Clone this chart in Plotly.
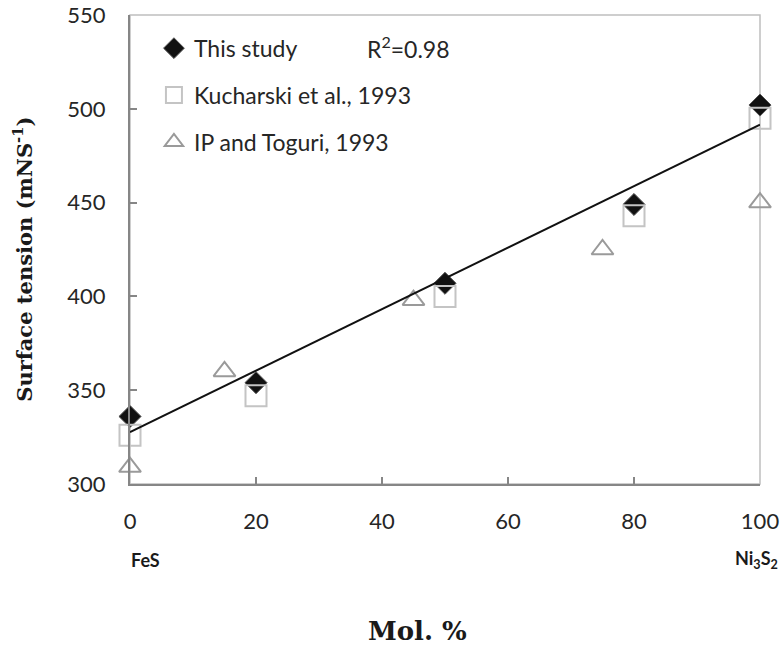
import numpy as np
import plotly.graph_objects as go

# Data
this_x = [0, 20, 50, 80, 100]
this_y = [336, 354, 407, 449, 502]
kuch_x = [0, 20, 50, 80, 100]
kuch_y = [326, 347, 400, 443, 495]
ip_x = [0, 15, 45, 75, 100]
ip_y = [309, 360, 398, 425, 450]
x_ticks = [0, 20, 40, 60, 80, 100]
y_ticks = [300, 350, 400, 450, 500, 550]

slope, intercept = np.polyfit(this_x, this_y, 1)
fit_x = [0, 100]
fit_y = [intercept + slope * v for v in fit_x]

fig = go.Figure()
fig.add_trace(go.Scatter(x=this_x, y=this_y, mode="markers", name="This study",
                         legendgroup="a", cliponaxis=False,
                         marker=dict(symbol="diamond", size=17, color="#111111",
                                     line=dict(color="#555555", width=1))))
fig.add_trace(go.Scatter(x=kuch_x, y=kuch_y, mode="markers", name="Kucharski et al., 1993",
                         legendgroup="b", cliponaxis=False,
                         marker=dict(symbol="square-open", size=21, color="#c4c4c4",
                                     line=dict(color="#c4c4c4", width=2))))
fig.add_trace(go.Scatter(x=ip_x, y=ip_y, mode="markers", name="IP and Toguri, 1993",
                         legendgroup="c", cliponaxis=False,
                         marker=dict(symbol="triangle-up-open", size=19, color="#9a9a9a",
                                     line=dict(color="#9a9a9a", width=2))))
fig.add_trace(go.Scatter(x=fit_x, y=fit_y, mode="lines", showlegend=False, cliponaxis=False,
                         line=dict(color="#111111", width=2)))

fig.update_layout(
    width=783, height=652,
    margin=dict(l=130, r=23, t=15, b=168, autoexpand=False),
    paper_bgcolor="white", plot_bgcolor="white",
    font=dict(family="Lato", size=22, color="#262626"),
    showlegend=True,
    legend=dict(x=0.038, y=0.975, xanchor="left", yanchor="top",
                bgcolor="rgba(0,0,0,0)", font=dict(size=23, family="Lato", color="#262626"),
                tracegroupgap=14, itemsizing="trace"),
    xaxis=dict(range=[0, 100], tickvals=x_ticks, ticks="inside", ticklen=7,
               tickcolor="#868686", tickwidth=1.5, showgrid=False, zeroline=False,
               showline=True, linecolor="#868686", linewidth=2, automargin=False,
               tickfont=dict(size=22, family="Lato", color="#262626"), ticklabelstandoff=17),
    yaxis=dict(range=[300, 550], tickvals=y_ticks, ticks="inside", ticklen=7,
               tickcolor="#868686", tickwidth=1.5, showgrid=False, zeroline=False,
               showline=True, linecolor="#868686", linewidth=2, automargin=False,
               tickfont=dict(size=22, family="Lato", color="#262626"), ticklabelstandoff=18),
    shapes=[dict(type="rect", xref="x domain", yref="y domain", x0=0, x1=1, y0=0, y1=1,
                 line=dict(color="#bfbfbf", width=1.5), layer="below")],
    annotations=[
        dict(text="R<sup>2</sup>=0.98", xref="paper", yref="paper", x=0.373, y=0.93,
             xanchor="left", yanchor="middle", showarrow=False,
             font=dict(size=23, family="Lato", color="#262626")),
        dict(text="<b>Surface tension (mNS<sup>-1</sup>)</b>", xref="paper", yref="paper",
             x=-0.17, y=0.48, xanchor="center", yanchor="middle", textangle=-90,
             showarrow=False, font=dict(size=21, family="DejaVu Serif", color="#1a1a1a")),
        dict(text="<b>FeS</b>", xref="paper", yref="paper", x=0.024, y=-0.162,
             xanchor="center", yanchor="middle", showarrow=False,
             font=dict(size=18, family="Lato", color="#1a1a1a")),
        dict(text="<b>Ni<sub>3</sub>S<sub>2</sub></b>", xref="paper", yref="paper", x=0.995, y=-0.162,
             xanchor="center", yanchor="middle", showarrow=False,
             font=dict(size=18, family="Lato", color="#1a1a1a")),
        dict(text="<b>Mol. %</b>", xref="paper", yref="paper", x=0.457, y=-0.313,
             xanchor="center", yanchor="middle", showarrow=False,
             font=dict(size=26, family="DejaVu Serif", color="#1a1a1a")),
    ],
)

fig.write_html("out.html", config={"displayModeBar": False},
               post_script="document.body.style.margin='0';document.body.style.overflow='hidden';")
